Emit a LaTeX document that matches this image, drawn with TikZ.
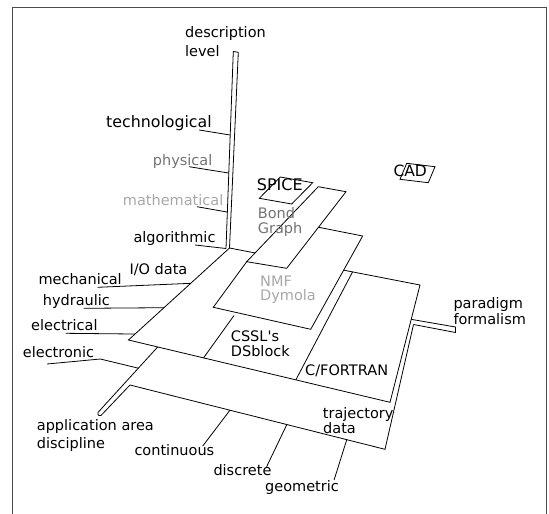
\documentclass[tikz,border=0pt]{standalone}
\usepackage{fontspec}
\setmainfont{DejaVu Sans}
\usetikzlibrary{calc}
\definecolor{midgray}{gray}{0.45}
\definecolor{palegray}{gray}{0.66}
\tikzset{
  lbl/.style={anchor=base west, inner sep=0pt, font=\fontsize{14.5}{15}\selectfont},
  biglbl/.style={lbl, font=\fontsize{#1}{15}\selectfont},
  edge/.style={line width=0.8pt, line join=miter},
  plane/.style={edge, fill=white},
}
\begin{document}
\begin{tikzpicture}[x=1pt,y=-1pt]
\useasboundingbox (0,0) rectangle (549,514);
% frame, open at the bottom
\draw[line width=1pt, black!70] (12,516) -- (12,7.5) -- (546,7.5) -- (546,516);

% description level axis
\coordinate (O) at (229.5,248);
\coordinate (vBot) at (226,248.5);
\coordinate (vTop) at (233.3,51.5);
\draw[plane] (vBot) -- (vTop) -- (238.3,52.3) -- (O);

% application area axis and lowest plane
\coordinate (aTip) at (97,413.5);
\coordinate (aIn) at (175,328);
\coordinate (bFL) at (130,385);
\coordinate (bFR) at (385,449.3);
\coordinate (bBR) at (413.5,324.5);
\draw[edge, rounded corners=1.5pt] (aIn) -- (aTip) -- (100,416.5) -- (bFL);
\draw[edge] (bFL) -- (bFR) -- (bBR);
% paradigm axis
\draw[edge] (400,317.4) -- (455.5,327) -- (455.5,332.5) -- (bBR);

% I/O data plane
\coordinate (L) at (128.5,340);
\coordinate (Rf) at (390,402.3);
\coordinate (Rb) at (420,285);
\draw[plane] (O) -- (L) -- (Rf) -- (Rb) -- cycle;
\draw[edge] (234,315.5) -- ($(L)!.287!(Rf)$);
\draw[edge] ($(O)!.646!(Rb)$) -- ($(L)!.64!(Rf)$);

% NMF plane, Bond Graph plane
\draw[plane] (213.3,307.3) -- (310.7,329.3) -- (362.7,236) -- (300,223.6) -- (246.7,261.7) -- cycle;
\draw[plane] (318.3,186.7) -- (346,191.7) -- (286.7,268.3) -- (246.7,261.7) -- cycle;
% SPICE and CAD
\draw[edge] (280.3,177) -- (312.7,182.7) -- (291.7,204) -- (259.3,198.3) -- cycle;
\draw[edge] (406.7,163.3) -- (435,166.7) -- (428.3,182.7) -- (400,179.3) -- cycle;

% labels
\node[lbl] (desc) at (185,37.7) {description};
\node[lbl] (level) at (185,56.7) {level};
\node[biglbl=15.8] (tech) at (106,127.5) {technological};
\node[lbl, text=midgray] (phys) at (152.7,165.7) {physical};
\node[lbl, text=palegray] (math) at (122.7,205.7) {mathematical};
\node[lbl] (algo) at (133.3,242.7) {algorithmic};
\node[lbl] (io) at (129.3,274) {I/O data};
\node[lbl] (mech) at (38.3,284.3) {mechanical};
\node[lbl] (hydr) at (42.7,305) {hydraulic};
\node[lbl] (elec) at (31,330) {electrical};
\node[lbl] (elnc) at (22.7,357.3) {electronic};
\node[lbl] (appl) at (36.7,430.7) {application area};
\node[lbl] (disc) at (36.7,448.3) {discipline};
\node[lbl] (cont) at (134.3,455) {continuous};
\node[lbl] (dscr) at (213.3,475) {discrete};
\node[lbl] (geom) at (265,491.7) {geometric};
\node[lbl] (traj) at (322.7,418.3) {trajectory};
\node[lbl] (tdat) at (323,433.3) {data};
\node[lbl] (cfor) at (305,375) {C/FORTRAN};
\node[lbl] (cssl) at (230.7,341.7) {CSSL\textquotesingle s};
\node[lbl] (dsbl) at (230.7,356.7) {DSblock};
\node[lbl, text=palegray] (nmf) at (260,286) {NMF};
\node[lbl, text=palegray] (dymo) at (260,300) {Dymola};
\node[lbl, text=midgray] (bond) at (257.7,218.3) {Bond};
\node[lbl, text=midgray] (grph) at (257.7,233.3) {Graph};
\node[biglbl=16] (spice) at (256.7,190.7) {SPICE};
\node[biglbl=15.5] (cad) at (393.3,176.7) {CAD};
\node[lbl] (para) at (453.3,308.3) {paradigm};
\node[lbl] (form) at (453.3,324) {formalism};

% leaders
\draw[edge] ([shift={(-12.7,2.5)}]tech.base east) -- ($(vBot)!.576!(vTop)$);
\draw[edge] ([shift={(-23.4,1)}]phys.base east) -- ($(vBot)!.383!(vTop)$);
\draw[edge] ([shift={(-26.6,1)}]math.base east) -- ($(vBot)!.185!(vTop)$);
\draw[edge] ([shift={(-20.6,2.3)}]algo.base east) -- (vBot);
\draw[edge] ([shift={(-24.4,3)}]mech.base east) -- ($(O)!.384!(L)$);
\draw[edge] ([shift={(-26.6,3.3)}]hydr.base east) -- ($(O)!.649!(L)$);
\draw[edge] ([shift={(-32.3,3.3)}]elec.base east) -- ($(O)!.935!(L)$);
\draw[edge] ([shift={(-47.3,6.7)}]elnc.base east) -- ([shift={(6,1.7)}]elnc.base east)
  -- ($(aTip)!.53!(aIn)$);
\draw[edge] ([shift={(-11.7,-9)}]cont.base east) -- ($(bFL)!.392!(bFR)$);
\draw[edge] ([shift={(-5,-8.3)}]dscr.base east) -- ($(bFL)!.615!(bFR)$);
\draw[edge] ([shift={(-5,-11.7)}]geom.base east) -- ($(bFL)!.85!(bFR)$);
\end{tikzpicture}
\end{document}
